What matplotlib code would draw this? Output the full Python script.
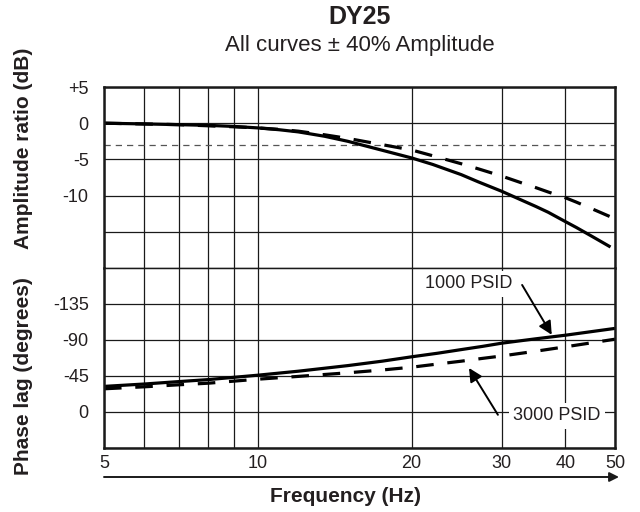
import matplotlib
matplotlib.use("Agg")
import matplotlib.pyplot as plt
from matplotlib.ticker import FixedLocator, NullFormatter

plt.rcParams['font.family'] = ['Liberation Sans', 'DejaVu Sans']

# ---- data ----
freq_amp_1000 = [5, 6, 7, 8, 9, 10, 11, 12, 13.5, 15, 17, 20, 22, 25, 27, 30, 33, 35, 37, 40, 42, 45, 49]
amp_1000 = [0, -0.1, -0.2, -0.3, -0.45, -0.65, -0.9, -1.2, -1.8, -2.5, -3.5, -4.8, -5.7, -7.1, -8.1,
            -9.4, -10.7, -11.5, -12.3, -13.6, -14.4, -15.6, -17.1]
freq_amp_3000 = [5, 7, 9, 10, 11, 12, 13.5, 15, 17, 20, 22, 25, 27, 30, 33, 35, 37, 40, 42, 45, 50]
amp_3000 = [0, -0.2, -0.5, -0.65, -0.85, -1.1, -1.6, -2.1, -2.8, -3.7, -4.5, -5.6, -6.3, -7.3,
            -8.3, -8.9, -9.5, -10.3, -10.9, -11.8, -13.2]

freq_ph = [5, 6, 7, 8, 10, 12, 15, 17.5, 20, 22.5, 25, 27.5, 30, 35, 40, 45, 50]
phase_1000 = [-32, -35, -38, -40.5, -46, -51, -58, -63.5, -69, -73.5, -78, -82, -86, -91.5, -96,
              -100.5, -104.5]
phase_3000 = [-29, -31.5, -34, -36, -41, -44.5, -49, -52.5, -56, -60, -63.5, -67, -70, -76, -81.5,
              -86.5, -91]

x_ticks = [5, 10, 20, 30, 40, 50]
x_tick_labels = ['5', '10', '20', '30', '40', '50']
x_minor = [6, 7, 8, 9]
amp_ticks = [-20, -15, -10, -5, 0, 5]
amp_tick_labels = ['', '', '-10', '-5', '0', '+5']
ph_ticks = [-180, -135, -90, -45, 0, 45]
ph_tick_labels = ['', '-135', '-90', '-45', '0', '']
cutoff_db = -3

TXT = '#231f20'
W, H = 640, 512
fig = plt.figure(figsize=(6.4, 5.12), dpi=100)
L, R = 104 / W, 615 / W
ax1 = fig.add_axes([L, 1 - 268 / H, R - L, (268 - 87) / H])
ax2 = fig.add_axes([L, 1 - 448 / H, R - L, (448 - 268) / H], sharex=ax1)

for ax in (ax1, ax2):
    ax.set_xscale('log')
    ax.set_xlim(5, 50)
    ax.xaxis.set_major_locator(FixedLocator(x_ticks))
    ax.xaxis.set_minor_locator(FixedLocator(x_minor))
    ax.xaxis.set_minor_formatter(NullFormatter())
    ax.grid(True, which='both', axis='x', color='#1a1a1a', lw=0.9)
    ax.grid(True, which='major', axis='y', color='#1a1a1a', lw=0.9)
    ax.tick_params(which='both', length=0, labelsize=13, labelcolor=TXT)
    ax.tick_params(axis='y', pad=11)
    ax.tick_params(axis='x', pad=5)
    ax.set_axisbelow(True)
    for s in ax.spines.values():
        s.set_linewidth(1.8)
        s.set_color('#1a1a1a')

ax1.spines['bottom'].set_linewidth(0.9)
ax2.spines['top'].set_linewidth(0.9)

# amplitude
ax1.set_ylim(-20, 5)
ax1.set_yticks(amp_ticks)
ax1.set_yticklabels(amp_tick_labels)
ax1.tick_params(axis='x', labelbottom=False)
ax1.axhline(cutoff_db, color='#555555', lw=0.9, dashes=(5, 4))
ax1.plot(freq_amp_1000, amp_1000, color='black', lw=2.3, solid_capstyle='butt')
ax1.plot(freq_amp_3000, amp_3000, color='black', lw=2.3, dashes=(5.5, 4.3),
         dash_capstyle='butt')

# phase
ax2.set_ylim(45, -180)
ax2.set_yticks(ph_ticks)
ax2.set_yticklabels(ph_tick_labels)
ax2.set_xticks(x_ticks)
ax2.set_xticklabels(x_tick_labels)
ax2.plot(freq_ph, phase_1000, color='black', lw=2.3, solid_capstyle='butt')
ax2.plot(freq_ph, phase_3000, color='black', lw=2.3, dashes=(5.5, 4.3),
         dash_capstyle='butt')

bb = dict(boxstyle='square,pad=0.25', fc='white', ec='none')
ax2.text(25.9, -160, '1000 PSID', ha='center', va='center', fontsize=13,
         color=TXT, bbox=bb, zorder=3)
ax2.text(38.5, 5, '3000 PSID', ha='center', va='center', fontsize=13,
         color=TXT, bbox=bb, zorder=3)
ap = dict(arrowstyle='-|>', mutation_scale=20, lw=1.4, color='black',
          shrinkA=0, shrinkB=0)
ax2.annotate('', xy=(37.6, -96.5), xytext=(32.9, -158.8), arrowprops=ap, zorder=4)
ax2.annotate('', xy=(25.9, -55), xytext=(29.5, 3.5), arrowprops=ap, zorder=4)

# titles
fig.text(359.5 / W, 1 - 17 / H, 'DY25', ha='center', va='center', fontsize=18,
         fontweight='bold', color=TXT)
fig.text(359.5 / W, 1 - 46 / H, 'All curves \u00b1 40% Amplitude', ha='center',
         va='center', fontsize=16, color=TXT)

# axis labels
fig.text(24 / W, 1 - 148 / H, 'Amplitude ratio (dB)', rotation=90, ha='center',
         va='center', fontsize=15, fontweight='bold', color=TXT)
fig.text(24 / W, 1 - 376 / H, 'Phase lag (degrees)', rotation=90, ha='center',
         va='center', fontsize=15, fontweight='bold', color=TXT)
fig.text(345 / W, 1 - 496 / H, 'Frequency (Hz)', ha='center', va='center',
         fontsize=15, fontweight='bold', color=TXT)

# frequency arrow
fig.add_artist(matplotlib.patches.FancyArrowPatch(
    (104 / W, 1 - 477 / H), (619 / W, 1 - 477 / H), transform=fig.transFigure,
    arrowstyle='-|>', mutation_scale=14, lw=1.4, color='#1a1a1a',
    shrinkA=0, shrinkB=0))

fig.savefig('out.png', dpi=100)
